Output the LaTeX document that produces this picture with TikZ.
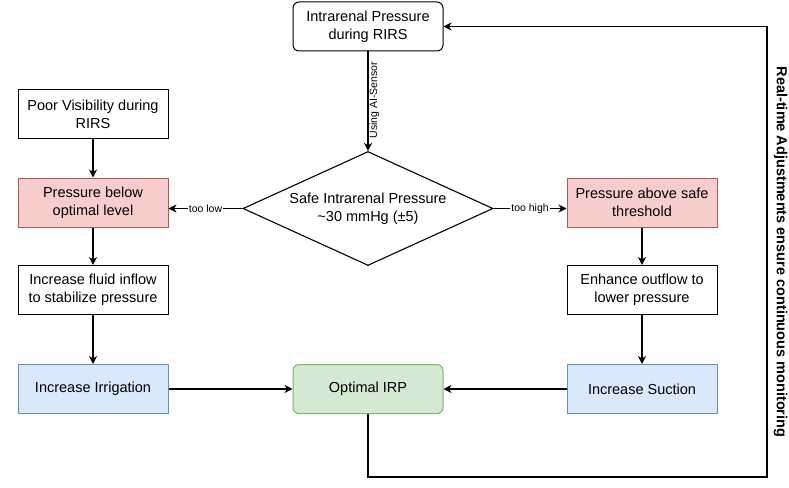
\documentclass[tikz,border=0pt]{standalone}
\usepackage{fontspec}
\setmainfont{Liberation Sans}
\usetikzlibrary{arrows.meta,shapes.geometric}
\definecolor{pinkF}{HTML}{F8CECC}\definecolor{pinkD}{HTML}{B85450}
\definecolor{blueF}{HTML}{DAE8FC}\definecolor{blueD}{HTML}{6C8EBF}
\definecolor{greenF}{HTML}{D5E8D4}\definecolor{greenD}{HTML}{82B366}
\tikzset{
  box/.style={draw=black, line width=1pt, minimum width=150pt, minimum height=49pt, align=center, inner sep=2pt, font=\fontsize{14.5}{18}\selectfont},
  rbox/.style={box, rounded corners=6pt},
  pinkbox/.style={box, fill=pinkF, draw=pinkD},
  bluebox/.style={box, fill=blueF, draw=blueD},
  greenbox/.style={box, rounded corners=6pt, fill=greenF, draw=greenD},
  conn/.style={line width=1.2pt, -{Stealth[length=8pt,width=8pt,inset=2.5pt]}},
  plain/.style={line width=1.2pt},
  lab/.style={fill=white, inner sep=1pt, font=\fontsize{10.5}{12}\selectfont},
}
\begin{document}
\begin{tikzpicture}[x=1pt,y=-1pt]
\useasboundingbox (0,0) rectangle (789,487);
\node[rbox] (top) at (368,26.5) {Intrarenal Pressure\\during RIRS};
\node[draw=black, line width=1.1pt, shape=diamond, aspect=2.2, inner sep=0pt, minimum width=250pt, minimum height=114pt, align=center, font=\fontsize{14.5}{18}\selectfont] (safe) at (368,208.5) {Safe Intrarenal Pressure\\\textasciitilde30 mmHg (±5)};
\node[box] (poor) at (93,114) {Poor Visibility during\\RIRS};
\node[pinkbox] (below) at (93,202.5) {Pressure below\\optimal level};
\node[box] (inflow) at (93,290) {Increase fluid inflow\\to stabilize pressure};
\node[bluebox] (irr) at (93,389) {Increase Irrigation};
\node[pinkbox] (above) at (642,202.5) {Pressure above safe\\threshold};
\node[box] (outflow) at (642,290) {Enhance outflow to\\lower pressure};
\node[bluebox] (suc) at (642,389) {Increase Suction};
\node[greenbox] (opt) at (368,389) {Optimal IRP};
\coordinate (c1) at (767,477);
\coordinate (c2) at (767,26.5);

\draw[conn] (top) -- node[lab, rotate=90, fill=none, right=1pt, anchor=north] {Using AI-Sensor} (safe.north);
\draw[conn] (safe.west) -- node[lab] {too low} (safe.west -| below.east);
\draw[conn] (safe.east) -- node[lab] {too high} (safe.east -| above.west);
\draw[conn] (poor) -- (below);
\draw[conn] (below) -- (inflow);
\draw[conn] (inflow) -- (irr);
\draw[conn] (above) -- (outflow);
\draw[conn] (outflow) -- (suc);
\draw[conn] (irr) -- (opt);
\draw[conn] (suc) -- (opt);
\draw[plain, -{Stealth[length=8pt,width=8pt,inset=2.5pt]}] (opt.south) |- (c1) -- (c2) -- (top.east);
\node[rotate=-90, inner sep=0pt, font=\bfseries\fontsize{14.5}{18}\selectfont] (rt) at (780.5,252) {Real-time Adjustments ensure continuous monitoring};
\end{tikzpicture}
\end{document}
